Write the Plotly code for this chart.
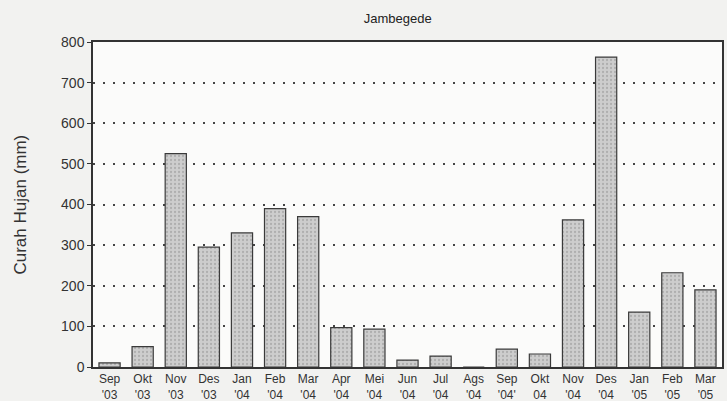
import plotly.graph_objects as go

months = ["Sep", "Okt", "Nov", "Des", "Jan", "Feb", "Mar", "Apr", "Mei", "Jun",
          "Jul", "Ags", "Sep", "Okt", "Nov", "Des", "Jan", "Feb", "Mar"]
years = ["'03", "'03", "'03", "'03", "'04", "'04", "'04", "'04", "'04", "'04",
         "'04", "'04", "'04'", "04", "'04", "'04", "'05", "'05", "'05"]
rainfall = [10, 50, 525, 295, 330, 390, 370, 97, 93, 17,
            27, 0, 44, 32, 362, 763, 135, 232, 190]
y_ticks = [0, 100, 200, 300, 400, 500, 600, 700, 800]

cats = [f"{m}<br>{y}" for m, y in zip(months, years)]
font = "Arial, Liberation Sans, sans-serif"

fig = go.Figure()
fig.add_trace(go.Bar(
    x=cats, y=rainfall,
    marker=dict(color="#cdcdcd", line=dict(color="#3a3a3a", width=1.2),
                pattern=dict(shape=".", fgcolor="#909090", size=4, solidity=0.25)),
))

fig.update_layout(
    width=727, height=401,
    paper_bgcolor="#f2f2f0", plot_bgcolor="#fbfbfa",
    margin=dict(l=93, r=5, t=42, b=34, autoexpand=False),
    bargap=0.36,
    showlegend=False,
    title=dict(text="Jambegede", x=0.547, xanchor="center", y=0.955, yanchor="middle",
               font=dict(family=font, size=13, color="#222")),
    font=dict(family=font, color="#222"),
    annotations=[dict(text="Curah Hujan (mm)", xref="paper", yref="paper",
                      x=-0.116, y=0.5, textangle=-90, showarrow=False,
                      xanchor="center", yanchor="middle",
                      font=dict(family=font, size=17, color="#333"))],
)
fig.update_xaxes(
    type="category", showline=True, linecolor="#333", linewidth=1.5, mirror=True,
    showgrid=False, ticks="", tickfont=dict(size=12, color="#333"), tickangle=0,
    automargin=False,
)
fig.update_yaxes(
    range=[0, 800], tickvals=y_ticks, showline=True, linecolor="#333", linewidth=1.5,
    mirror=True, ticks="outside", ticklen=4, tickcolor="#333",
    showgrid=True, gridcolor="#444", gridwidth=2, griddash="2px,8px",
    tickfont=dict(size=14, color="#333"), zeroline=False, automargin=False,
)
fig.write_html("out.html", config={"displayModeBar": False},
               post_script="document.body.style.margin='0';document.body.style.background='#f2f2f0';")
